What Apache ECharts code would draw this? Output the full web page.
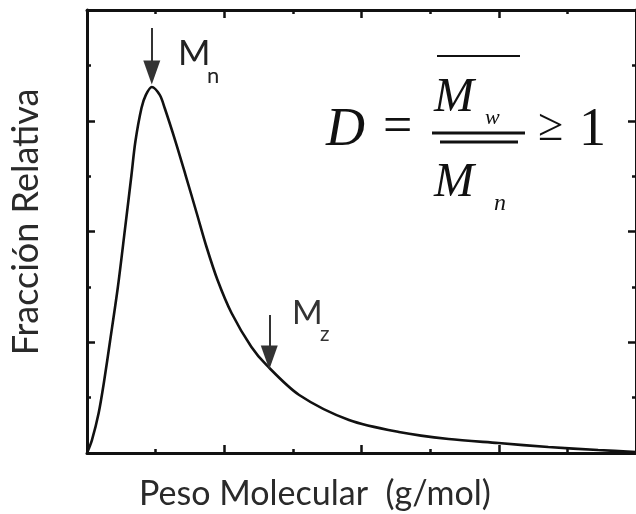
<!DOCTYPE html>
<html>
<head>
<meta charset="utf-8">
<script src="https://cdn.jsdelivr.net/npm/echarts@6/dist/echarts.min.js"></script>
<style>
html,body{margin:0;padding:0;background:#fff;}
#chart{width:636px;height:514px;}
</style>
</head>
<body>
<div id="chart"></div>
<script>
// Molecular weight (relative units) and relative fraction
var pesoMolecular = [0, 0.036, 0.085, 0.126, 0.167, 0.225, 0.276, 0.324, 0.352, 0.397, 0.429, 0.472, 0.530, 0.566, 0.646, 0.718, 0.799, 0.871, 0.951, 1.053, 1.198, 1.307, 1.546, 1.909, 2.272, 2.635, 2.998, 3.361, 3.724, 4.0];
var fraccion      = [0, 0.117, 0.361, 0.659, 1.002, 1.499, 2.014, 2.510, 2.808, 3.115, 3.233, 3.305, 3.233, 3.115, 2.808, 2.510, 2.167, 1.860, 1.562, 1.264, 0.957, 0.795, 0.524, 0.298, 0.190, 0.126, 0.090, 0.054, 0.027, 0.009];

// Arrow annotations (data coordinates): start of shaft and centre of arrow head
var arrowNames = ['Mn', 'Mz'];
var arrowX     = [0.472, 1.328];
var arrowTop   = [3.837, 1.246];
var arrowHead  = [3.436, 0.862];

var xMin = 0, xMax = 4, xInterval = 1;
var yMin = 0, yMax = 4, yInterval = 1;

var seriesData = pesoMolecular.map(function (x, i) { return [x, fraccion[i]]; });
var arrowLines = arrowX.map(function (x, i) {
  return [{ name: arrowNames[i], coord: [x, arrowTop[i]] }, { coord: [x, arrowHead[i]] }];
});

var axisLineStyle = { color: '#111', width: 3 };
function makeAxis(extra) {
  return Object.assign({
    type: 'value',
    axisLine: { show: true, onZero: false, lineStyle: axisLineStyle },
    axisTick: { show: true, inside: true, length: 8, lineStyle: { color: '#111', width: 2.5 } },
    minorTick: { show: true, splitNumber: 2, length: 4, lineStyle: { color: '#111', width: 2.5 } },
    axisLabel: { show: false },
    splitLine: { show: false }
  }, extra);
}

var chart = echarts.init(document.getElementById('chart'), null, { renderer: 'canvas' });
var serif = '"Liberation Serif", "DejaVu Serif", serif';
var sans = 'Lato, "Open Sans", sans-serif';

chart.setOption({
  animation: false,
  backgroundColor: '#fff',
  grid: { left: 87, right: -2, top: 10, bottom: 61, containLabel: false },
  xAxis: [
    makeAxis({ min: xMin, max: xMax, interval: xInterval, position: 'bottom' }),
    makeAxis({ min: xMin, max: xMax, interval: xInterval, position: 'top' })
  ],
  yAxis: [
    makeAxis({ min: yMin, max: yMax, interval: yInterval, position: 'left' }),
    makeAxis({ min: yMin, max: yMax, interval: yInterval, position: 'right' })
  ],
  series: [{
    type: 'line',
    data: seriesData,
    smooth: 0.3,
    showSymbol: false,
    lineStyle: { color: '#111', width: 2.6 },
    markLine: {
      silent: true,
      animation: false,
      symbol: ['none', 'triangle'],
      symbolSize: [17, 24],
      label: { show: false },
      lineStyle: { color: '#333', width: 2, type: 'solid' },
      data: arrowLines
    }
  }],
  graphic: [
    // axis titles
    { type: 'text', x: 26, y: 222, rotation: Math.PI / 2, style: { text: 'Fracción Relativa', font: '36px ' + sans, fill: '#2a2a2a', align: 'center', verticalAlign: 'middle' } },
    { type: 'text', x: 315, y: 494, style: { text: 'Peso Molecular  (g/mol)', font: '34px ' + sans, fill: '#2a2a2a', align: 'center', verticalAlign: 'middle' } },
    // Mn / Mz labels
    { type: 'text', x: 178, y: 54, style: { text: 'M', font: '35px ' + sans, fill: '#222', align: 'left', verticalAlign: 'middle' } },
    { type: 'text', x: 207, y: 76, style: { text: 'n', font: '22px ' + sans, fill: '#222', align: 'left', verticalAlign: 'middle' } },
    { type: 'text', x: 292, y: 313, style: { text: 'M', font: '33px ' + sans, fill: '#333', align: 'left', verticalAlign: 'middle' } },
    { type: 'text', x: 320, y: 334, style: { text: 'z', font: '21px ' + sans, fill: '#333', align: 'left', verticalAlign: 'middle' } },
    // dispersity formula
    { type: 'text', x: 326, y: 131, style: { text: 'D', font: 'italic 54px ' + serif, fill: '#111', align: 'left', verticalAlign: 'middle' } },
    { type: 'text', x: 383, y: 128, style: { text: '=', font: '52px ' + serif, fill: '#111', align: 'left', verticalAlign: 'middle' } },
    { type: 'text', x: 434, y: 98, style: { text: 'M', font: 'italic 48px ' + serif, fill: '#111', align: 'left', verticalAlign: 'middle' } },
    { type: 'text', x: 485, y: 118, style: { text: 'w', font: 'italic 22px ' + serif, fill: '#111', align: 'left', verticalAlign: 'middle' } },
    { type: 'text', x: 434, y: 183, style: { text: 'M', font: 'italic 48px ' + serif, fill: '#111', align: 'left', verticalAlign: 'middle' } },
    { type: 'text', x: 494, y: 204, style: { text: 'n', font: 'italic 24px ' + serif, fill: '#111', align: 'left', verticalAlign: 'middle' } },
    { type: 'text', x: 538, y: 128, style: { text: '≥', font: '46px ' + serif, fill: '#111', align: 'left', verticalAlign: 'middle' } },
    { type: 'text', x: 579, y: 131, style: { text: '1', font: '54px ' + serif, fill: '#111', align: 'left', verticalAlign: 'middle' } },
    { type: 'line', shape: { x1: 437, y1: 56, x2: 520, y2: 56 }, style: { stroke: '#111', lineWidth: 2 } },
    { type: 'line', shape: { x1: 432, y1: 133, x2: 525, y2: 133 }, style: { stroke: '#111', lineWidth: 3 } },
    { type: 'line', shape: { x1: 440, y1: 142, x2: 518, y2: 142 }, style: { stroke: '#111', lineWidth: 3 } }
  ]
});
</script>
</body>
</html>
